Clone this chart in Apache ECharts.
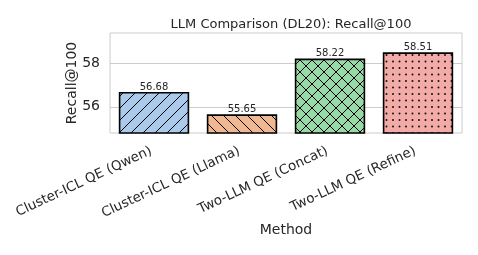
<!DOCTYPE html>
<html>
<head>
<meta charset="utf-8">
<script src="https://cdn.jsdelivr.net/npm/echarts@6/dist/echarts.min.js"></script>
<style>html,body{margin:0;padding:0;background:#fff}#c{width:478px;height:255px}</style>
</head>
<body>
<div id="c"></div>
<script>
const categories = ['Cluster-ICL QE (Qwen)', 'Cluster-ICL QE (Llama)', 'Two-LLM QE (Concat)', 'Two-LLM QE (Refine)'];
const recallValues = [56.68, 55.65, 58.22, 58.51];
const yTickValues = [56, 58];
const barColors = ['#abc9ea', '#efb792', '#98daa7', '#f3aba8'];
const hatches = ['/', '\\', 'x', '.'];

function makePattern(bg, hatch) {
  const s = hatch === '.' ? 13 : 12;
  const c = document.createElement('canvas');
  c.width = s; c.height = s;
  const g = c.getContext('2d');
  g.fillStyle = bg; g.fillRect(0, 0, s, s);
  g.strokeStyle = '#000'; g.lineWidth = 1;
  function ne() { for (const k of [0, s, 2 * s]) { g.beginPath(); g.moveTo(k + 1, -1); g.lineTo(-1, k + 1); g.stroke(); } }
  function nw() { for (const k of [-s, 0, s]) { g.beginPath(); g.moveTo(k - 1, -1); g.lineTo(k + s + 1, s + 1); g.stroke(); } }
  if (hatch === '/') ne();
  else if (hatch === '\\') nw();
  else if (hatch === 'x') { ne(); nw(); }
  else if (hatch === '.') {
    g.fillStyle = '#111';
    const h = s / 2;
    for (const [x, y] of [[3, 3], [3 + h, 3], [3, 3 + h], [3 + h, 3 + h]]) { g.beginPath(); g.arc(x, y, 1.0, 0, Math.PI * 2); g.fill(); }
  }
  return { image: c, repeat: 'repeat' };
}

const chart = echarts.init(document.getElementById('c'), null, { renderer: 'canvas' });
const txt = '#262626';
chart.setOption({
  animation: false,
  textStyle: { fontFamily: 'DejaVu Sans' },
  title: {
    text: 'LLM Comparison (DL20): Recall@100',
    left: 286, top: 13, textAlign: 'center',
    textStyle: { fontSize: 13, fontWeight: 'normal', color: txt, fontFamily: 'DejaVu Sans' }
  },
  grid: { left: 110, right: 16, top: 33, bottom: 122, show: true, borderColor: '#cccccc', borderWidth: 1, containLabel: false },
  xAxis: {
    type: 'category', data: categories,
    name: 'Method', nameLocation: 'middle', nameGap: 90, nameMoveOverlap: false,
    nameTextStyle: { fontSize: 14, color: txt, fontFamily: 'DejaVu Sans' },
    axisLine: { show: false }, axisTick: { show: false },
    axisLabel: { rotate: 25, fontSize: 13.4, color: txt, margin: 16, padding: [0, 3, 0, 0], interval: 0, fontFamily: 'DejaVu Sans' },
    splitLine: { show: false }
  },
  yAxis: {
    type: 'value', min: 54.79, max: 59.40,
    name: 'Recall@100', nameLocation: 'middle', nameGap: 31, nameMoveOverlap: false,
    nameTextStyle: { fontSize: 14, color: txt, fontFamily: 'DejaVu Sans' },
    axisLine: { show: false },
    axisTick: { show: false, customValues: yTickValues },
    axisLabel: { customValues: yTickValues, fontSize: 14, color: txt, margin: 10, formatter: v => String(Math.round(v)), fontFamily: 'DejaVu Sans' },
    splitLine: { show: true, lineStyle: { color: '#cccccc', width: 1 } }
  },
  series: [{
    type: 'bar', barWidth: '80%',
    data: recallValues.map((v, i) => ({ value: v, itemStyle: { color: makePattern(barColors[i], hatches[i]) } })),
    itemStyle: { borderColor: '#000', borderWidth: 1.6 },
    label: { show: true, position: 'top', distance: 0, fontSize: 10, color: txt, fontFamily: 'DejaVu Sans', formatter: p => p.value.toFixed(2) }
  }]
});
</script>
</body>
</html>
